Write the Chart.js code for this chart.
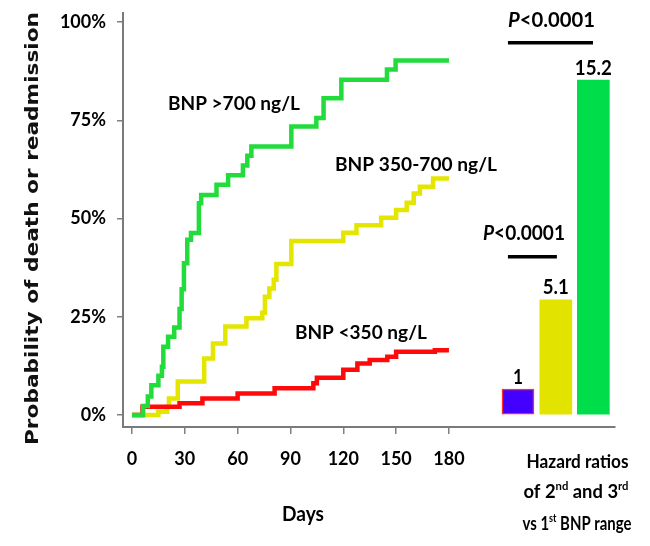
<!DOCTYPE html>
<html><head><meta charset="utf-8">
<script src="https://cdn.jsdelivr.net/npm/chart.js@4"></script>
<style>html,body{margin:0;padding:0;background:#fff}#wrap{position:relative;width:650px;height:546px}</style>
</head><body><div id="wrap"><canvas id="c" width="650" height="546"></canvas></div>
<script>
// ---- Kaplan-Meier steps: day of the event, cumulative probability (%) after it ----
const lowDays  = [0, 6, 27, 40, 60, 81, 103, 105, 120, 128, 135, 145, 150, 172, 180];
const lowProb  = [0, 2.1, 3.0, 4.2, 5.5, 6.8, 8.1, 9.5, 11.5, 13.1, 14.0, 14.8, 16.1, 16.5, 16.5];

const midDays  = [0, 15, 20, 21, 26, 41, 46, 53, 65, 74, 75.5, 78, 80.5, 82, 90.5, 120, 127.5, 141.5, 150, 156, 160, 163.5, 171, 180];
const midProb  = [0, 0.8, 2.1, 4.2, 8.5, 14.4, 18.2, 22.5, 24.6, 26, 30.1, 32.2, 34.4, 38.4, 44.3, 46.4, 48.3, 50.2, 52.2, 54, 56.4, 58.1, 60.2, 60.2];

const highDays = [0, 6.3, 9, 11, 15, 17, 17.8, 20.5, 24, 27, 28.2, 29.5, 31.4, 33.5, 38, 39.3, 48, 54.6, 63, 65.5, 67.8, 90.5, 104.7, 108.8, 118.9, 144.8, 149.7, 180];
const highProb = [0, 2.3, 4.7, 7.6, 10, 12.3, 17.4, 19.9, 22.3, 27, 32, 38.6, 44.6, 46.3, 53.9, 56, 58.6, 61, 63.5, 66, 68.3, 73.4, 75.6, 80.6, 85.3, 87.9, 90.2, 90.2];

const seriesNames = ['BNP >700 ng/L', 'BNP 350-700 ng/L', 'BNP <350 ng/L'];

// ---- Hazard ratio inset ----
const hazardGroups = ['1st BNP range', '2nd BNP range', '3rd BNP range'];
const hazardRatios = ['1', '5.1', '15.2'];
const hazardBarHeights = [6.6, 29.3, 85.2];   // drawn height, read on the % axis
const pValues = ['P<0.0001', 'P<0.0001'];

// ---- Axis ticks ----
const xTicks = [0, 30, 60, 90, 120, 150, 180];
const yTicks = [0, 25, 50, 75, 100];

// ---- layout (not data) ----
const barSlots = [219.2, 240.7, 262.0];      // bar centres on the extended day axis
const FONT = "Lato, 'Open Sans', sans-serif";

function pts(xs, ys) { return xs.map((d, i) => ({ x: d, y: ys[i] })); }

function fitText(ctx, text, cx, cy, font, w, color) {
  ctx.save();
  ctx.font = font; ctx.fillStyle = color || '#000';
  ctx.textBaseline = 'middle'; ctx.textAlign = 'center';
  const m = ctx.measureText(text).width;
  const s = w ? w / m : 1;
  ctx.translate(cx, cy); ctx.scale(s, 1); ctx.fillText(text, 0, 0);
  ctx.restore();
}
function richText(ctx, segs, cx, cy, size, weight, w) {
  ctx.save();
  ctx.fillStyle = '#000'; ctx.textBaseline = 'middle'; ctx.textAlign = 'left';
  let total = 0;
  const parts = segs.map(s => {
    const f = (s.italic ? 'italic ' : '') + weight + ' ' + (s.sup ? Math.round(size * 0.62) : size) + 'px ' + FONT;
    ctx.font = f; const mw = ctx.measureText(s.t).width; total += mw;
    return { f, mw, s };
  });
  const sc = w ? w / total : 1;
  ctx.translate(cx, cy); ctx.scale(sc, 1);
  let x = -total / 2;
  parts.forEach(p => { ctx.font = p.f; ctx.fillText(p.s.t, x, p.s.sup ? -size * 0.33 : 0); x += p.mw; });
  ctx.restore();
}

const textPlugin = {
  id: 'texts',
  afterDraw(chart) {
    const ctx = chart.ctx, xs = chart.scales.x, ys = chart.scales.y;
    // y-axis title
    ctx.save();
    ctx.translate(33, 228.5); ctx.rotate(-Math.PI / 2);
    fitText(ctx, 'Probability of death or readmission', 0, 0, "bold 18px 'DejaVu Sans', sans-serif", 433, '#111');
    ctx.restore();
    // x-axis title
    fitText(ctx, 'Days', 303, 515, 'bold 20px ' + FONT, 42);
    // curve labels
    fitText(ctx, seriesNames[0], xs.getPixelForValue(57.9), ys.getPixelForValue(79.2), 'bold 19px ' + FONT, 132);
    fitText(ctx, seriesNames[1], xs.getPixelForValue(161.3), ys.getPixelForValue(63.6), 'bold 19px ' + FONT, 162);
    fitText(ctx, seriesNames[2], xs.getPixelForValue(130), ys.getPixelForValue(20.8), 'bold 19px ' + FONT, 132);
    // bar value labels
    const meta = chart.getDatasetMeta(3);
    const lw = [10, 26, 37];
    meta.data.forEach((bar, i) => {
      fitText(ctx, hazardRatios[i], bar.x, bar.y - 12, 'bold 20px ' + FONT, lw[i]);
    });
    // p-value brackets
    ctx.save();
    ctx.strokeStyle = '#000'; ctx.lineWidth = 3.5;
    ctx.beginPath();
    ctx.moveTo(xs.getPixelForValue(213.5), ys.getPixelForValue(94.7));
    ctx.lineTo(xs.getPixelForValue(261.8), ys.getPixelForValue(94.7));
    ctx.moveTo(xs.getPixelForValue(213.5), ys.getPixelForValue(40.3));
    ctx.lineTo(xs.getPixelForValue(241.3), ys.getPixelForValue(40.3));
    ctx.stroke();
    ctx.restore();
    richText(ctx, [{ t: 'P', italic: true }, { t: pValues[0].slice(1) }], 551.5, 20, 21, 'bold', 87);
    richText(ctx, [{ t: 'P', italic: true }, { t: pValues[1].slice(1) }], 524, 233.5, 21, 'bold', 82);
    // hazard caption
    fitText(ctx, 'Hazard ratios', 577.5, 462, 'bold 18px ' + FONT, 102);
    richText(ctx, [{ t: 'of 2' }, { t: 'nd', sup: true }, { t: ' and 3' }, { t: 'rd', sup: true }], 576, 492, 18, 'bold', 105);
    richText(ctx, [{ t: 'vs 1' }, { t: 'st', sup: true }, { t: ' BNP range' }], 577, 524.5, 18, 'bold', 109);
  }
};

const lineCommon = { borderWidth: 4.5, stepped: 'before', pointRadius: 0, fill: false, borderJoinStyle: 'miter', borderCapStyle: 'butt' };

new Chart(document.getElementById('c'), {
  type: 'line',
  data: {
    datasets: [
      Object.assign({ label: seriesNames[0], data: pts(highDays, highProb), borderColor: '#22dc3c', order: 1 }, lineCommon),
      Object.assign({ label: seriesNames[2], data: pts(lowDays, lowProb), borderColor: '#ff0a0a', order: 2 }, lineCommon),
      Object.assign({ label: seriesNames[1], data: pts(midDays, midProb), borderColor: '#e4e600', order: 3 }, lineCommon),
      {
        type: 'bar', label: 'Hazard ratio',
        data: hazardBarHeights.map((h, i) => ({ x: barSlots[i], y: h })),
        backgroundColor: ['#4400ff', '#e2e400', '#00dd4a'],
        borderColor: ['#ff2a2a', '#e2e400', '#00dd4a'],
        borderWidth: [1.5, 0, 0], borderSkipped: false,
        barThickness: 32, order: 4
      }
    ]
  },
  options: {
    responsive: false, animation: false, devicePixelRatio: 1,
    layout: { padding: { top: 13, right: 35, left: 0, bottom: 0 } },
    plugins: { legend: { display: false }, tooltip: { enabled: false } },
    scales: {
      x: {
        type: 'linear', min: -5.1, max: 274.3, offset: false,
        afterBuildTicks: s => { s.ticks = xTicks.map(v => ({ value: v })); },
        afterFit: s => { s.height = 119; s.paddingLeft = 0; s.paddingRight = 0; },
        grid: { drawOnChartArea: false, drawTicks: true, tickLength: 7, color: '#808080', lineWidth: 1.5, offset: false },
        border: { color: '#7a7a7a', width: 2 },
        ticks: { font: { family: FONT, size: 18, weight: 'bold' }, color: '#000', padding: 14, maxRotation: 0, autoSkip: false }
      },
      y: {
        min: -3.05, max: 102.3,
        afterBuildTicks: s => { s.ticks = yTicks.map(v => ({ value: v })); },
        afterFit: s => { s.width = 123; s.paddingTop = 0; s.paddingBottom = 0; },
        grid: { drawOnChartArea: false, drawTicks: true, tickLength: 6, color: '#808080', lineWidth: 1.5 },
        border: { color: '#7a7a7a', width: 2 },
        ticks: { font: { family: FONT, size: 18, weight: 'bold' }, color: '#000', padding: 11, callback: v => v + '%' }
      }
    }
  },
  plugins: [textPlugin]
});
</script>
</body></html>
